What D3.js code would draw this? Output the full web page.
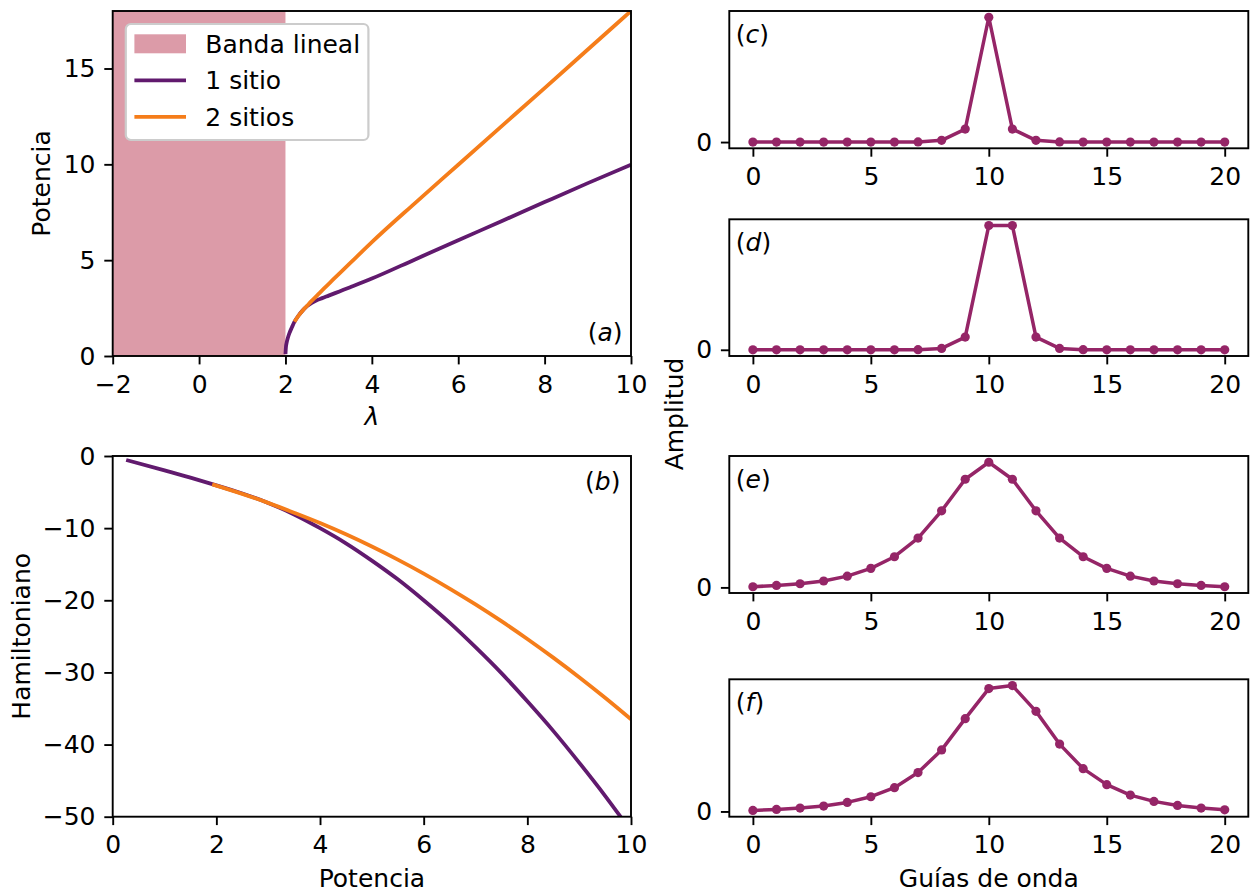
<!DOCTYPE html>
<html>
<head>
<meta charset="utf-8">
<script src="https://cdn.jsdelivr.net/npm/d3@7"></script>
<style>
  body { margin: 0; background: #fff; }
  svg text { font-family: "DejaVu Sans", sans-serif; }
</style>
</head>
<body>
<svg id="fig" width="1257" height="892"></svg>
<script>
// ---- (a) Potencia frente a λ ----
const linearBand = [-2, 2];
const lambdaOneSite = [2.00, 2.01, 2.03, 2.06, 2.10, 2.15, 2.21, 2.30, 2.40, 2.50, 2.60, 2.70, 2.85, 3.00, 3.25, 3.50, 4.00, 5.00, 6.00, 7.00, 8.00, 9.00, 10.00];
const powerOneSite  = [0.10, 0.45, 0.72, 0.98, 1.24, 1.50, 1.79, 2.10, 2.38, 2.60, 2.76, 2.88, 3.02, 3.15, 3.37, 3.59, 4.04, 5.04, 6.04, 7.03, 8.03, 9.02, 9.98];
const lambdaTwoSite = [2.21, 2.30, 2.40, 2.50, 2.60, 2.75, 2.90, 3.10, 3.30, 3.60, 4.00, 5.00, 6.00, 7.00, 8.00, 9.00, 10.00];
const powerTwoSite  = [1.79, 2.10, 2.38, 2.62, 2.86, 3.20, 3.54, 3.98, 4.42, 5.07, 5.94, 7.98, 9.98, 11.98, 13.98, 15.99, 18.00];
const lambdaTicks = [-2, 0, 2, 4, 6, 8, 10];
const powerTicks = [0, 5, 10, 15];

// ---- (b) Hamiltoniano frente a potencia ----
const hPowerOneSite = [0.26, 1.00, 1.50, 1.92, 2.50, 3.00, 3.50, 4.00, 4.50, 5.00, 5.50, 6.00, 6.50, 7.00, 7.50, 8.00, 8.50, 9.00, 9.50, 9.85];
const hamOneSite    = [-0.55, -2.00, -3.00, -3.90, -5.20, -6.50, -8.10, -10.00, -12.10, -14.50, -17.10, -20.00, -23.10, -26.50, -30.10, -34.00, -38.10, -42.50, -47.10, -50.50];
const hPowerTwoSite = [1.92, 2.50, 3.00, 3.50, 4.00, 4.50, 5.00, 5.50, 6.00, 6.50, 7.00, 7.50, 8.00, 8.50, 9.00, 9.50, 10.00];
const hamTwoSite    = [-3.92, -5.25, -6.50, -7.87, -9.30, -10.86, -12.55, -14.36, -16.30, -18.37, -20.57, -22.90, -25.36, -27.95, -30.67, -33.52, -36.50];
const hPowerTicks = [0, 2, 4, 6, 8, 10];
const hamTicks = [0, -10, -20, -30, -40, -50];

// ---- (c)-(f) Amplitud en cada guía de onda ----
const guides = [0, 1, 2, 3, 4, 5, 6, 7, 8, 9, 10, 11, 12, 13, 14, 15, 16, 17, 18, 19, 20];
const ampC = [0, 0, 0, 0, 0, 0, 0, 0.001, 0.014, 0.104, 1.000, 0.104, 0.014, 0.001, 0, 0, 0, 0, 0, 0, 0];
const ampD = [0, 0, 0, 0, 0, 0, 0, 0.001, 0.011, 0.102, 1.000, 1.000, 0.102, 0.011, 0.001, 0, 0, 0, 0, 0, 0];
const ampE = [0.005, 0.016, 0.029, 0.051, 0.090, 0.152, 0.245, 0.394, 0.612, 0.864, 1.000, 0.864, 0.612, 0.394, 0.245, 0.152, 0.090, 0.051, 0.029, 0.016, 0.005];
const ampF = [0.008, 0.016, 0.027, 0.043, 0.072, 0.117, 0.189, 0.309, 0.489, 0.737, 0.976, 1.000, 0.795, 0.535, 0.340, 0.213, 0.130, 0.080, 0.048, 0.027, 0.013];
const guideTicks = [0, 5, 10, 15, 20];
const ampTicks = [0];

// ---- estilo ----
const FONT = 25;
const TICK = 8.4;
const SPINE = 1.9;
const PURPLE = "#611a6e";
const ORANGE = "#f57d1a";
const BAND = "#dc9ba8";
const AMP = "#952567";

const svg = d3.select("#fig");
let clipId = 0;

function panel(box, xDomain, yDomain) {
  const g = svg.append("g").attr("transform", `translate(${box.x0},${box.y0})`);
  const w = box.x1 - box.x0, h = box.y1 - box.y0;
  const x = d3.scaleLinear().domain(xDomain).range([0, w]);
  const y = d3.scaleLinear().domain(yDomain).range([h, 0]);
  const id = "clip" + (clipId++);
  g.append("clipPath").attr("id", id).append("rect").attr("width", w).attr("height", h);
  const plot = g.append("g").attr("clip-path", `url(#${id})`);
  return { g, plot, x, y, w, h };
}

function axes(p, xTicks, yTicks) {
  const fmt = d3.format("d");
  const xa = p.g.append("g").attr("transform", `translate(0,${p.h})`)
    .call(d3.axisBottom(p.x).tickValues(xTicks).tickSize(TICK).tickPadding(10.6).tickFormat(fmt));
  const ya = p.g.append("g")
    .call(d3.axisLeft(p.y).tickValues(yTicks).tickSize(TICK).tickPadding(8.8).tickFormat(fmt));
  [xa, ya].forEach(a => {
    a.select(".domain").remove();
    a.attr("font-size", FONT).attr("font-family", "DejaVu Sans");
    a.selectAll(".tick line").attr("stroke", "#000").attr("stroke-width", SPINE);
    a.selectAll(".tick text").attr("fill", "#000");
  });
  p.g.append("rect").attr("width", p.w).attr("height", p.h)
    .attr("fill", "none").attr("stroke", "#000").attr("stroke-width", SPINE);
}

function curve(p, xs, ys, color, width) {
  const pts = xs.map((v, i) => [v, ys[i]]);
  p.plot.append("path").datum(pts)
    .attr("fill", "none").attr("stroke", color).attr("stroke-width", width)
    .attr("stroke-linejoin", "round")
    .attr("d", d3.line().x(d => p.x(d[0])).y(d => p.y(d[1])).curve(d3.curveMonotoneX));
}

function tag(p, letter, x, y, anchor) {
  const t = p.g.append("text").attr("x", x).attr("y", y)
    .attr("font-size", FONT).attr("text-anchor", anchor);
  t.append("tspan").text("(");
  t.append("tspan").attr("font-style", "italic").text(letter);
  t.append("tspan").text(")");
}

// ---- (a) ----
const pa = panel({ x0: 112.7, x1: 631, y0: 11, y1: 356 }, [-2, 10], [0, 18]);
pa.plot.append("rect")
  .attr("x", pa.x(linearBand[0])).attr("width", pa.x(linearBand[1]) - pa.x(linearBand[0]))
  .attr("y", 0).attr("height", pa.h).attr("fill", BAND);
curve(pa, lambdaOneSite, powerOneSite, PURPLE, 3.8);
curve(pa, lambdaTwoSite, powerTwoSite, ORANGE, 3.8);
axes(pa, lambdaTicks, powerTicks);
tag(pa, "a", pa.w - 8.5, 330, "end");

// leyenda
const leg = pa.g.append("g").attr("transform", "translate(13.1,13)");
leg.append("rect").attr("width", 242.6).attr("height", 116).attr("rx", 5)
  .attr("fill", "#ffffff").attr("stroke", "#cccccc").attr("stroke-width", 2.2);
const legendItems = [
  { label: "Banda lineal", kind: "patch", color: BAND },
  { label: "1 sitio", kind: "line", color: PURPLE },
  { label: "2 sitios", kind: "line", color: ORANGE }
];
legendItems.forEach((it, i) => {
  const cy = 19.8 + i * 36.5;
  if (it.kind === "patch") {
    leg.append("rect").attr("x", 8.6).attr("y", cy - 9.5).attr("width", 51.6).attr("height", 19).attr("fill", it.color);
  } else {
    leg.append("line").attr("x1", 8.6).attr("x2", 60.2).attr("y1", cy).attr("y2", cy)
      .attr("stroke", it.color).attr("stroke-width", 3.8);
  }
  leg.append("text").attr("x", 79.5).attr("y", cy + 9).attr("font-size", FONT).text(it.label);
});

// ---- (b) ----
const pb = panel({ x0: 112.7, x1: 631, y0: 456, y1: 816.7 }, [0, 10], [-50, 0]);
curve(pb, hPowerOneSite, hamOneSite, PURPLE, 3.8);
curve(pb, hPowerTwoSite, hamTwoSite, ORANGE, 3.8);
axes(pb, hPowerTicks, hamTicks);
tag(pb, "b", pb.w - 10.5, 34, "end");

// ---- (c)-(f) ----
const ampPanels = [
  { key: "c", data: ampC, y0: 11, y1: 148.3 },
  { key: "d", data: ampD, y0: 219.3, y1: 356 },
  { key: "e", data: ampE, y0: 456, y1: 593 },
  { key: "f", data: ampF, y0: 679.3, y1: 816.7 }
];
ampPanels.forEach(d => {
  const lo = d3.min(d.data), hi = d3.max(d.data), m = 0.05 * (hi - lo);
  const p = panel({ x0: 729.3, x1: 1248.3, y0: d.y0, y1: d.y1 }, [-1, 21], [lo - m, hi + m]);
  const pts = guides.map((g, i) => [g, d.data[i]]);
  p.plot.append("path").datum(pts)
    .attr("fill", "none").attr("stroke", AMP).attr("stroke-width", 3.5).attr("stroke-linejoin", "round")
    .attr("d", d3.line().x(v => p.x(v[0])).y(v => p.y(v[1])));
  p.plot.selectAll("circle").data(pts).enter().append("circle")
    .attr("cx", v => p.x(v[0])).attr("cy", v => p.y(v[1])).attr("r", 4.6).attr("fill", AMP);
  axes(p, guideTicks, ampTicks);
  tag(p, d.key, 6.5, 31.5, "start");
});

// ---- rótulos de ejes ----
function label(text, x, y, rotate, italic) {
  const t = svg.append("text").attr("font-size", FONT).attr("text-anchor", "middle")
    .attr("transform", `translate(${x},${y})` + (rotate ? " rotate(-90)" : ""))
    .text(text);
  if (italic) t.attr("font-style", "italic");
}
label("λ", 371.9, 425, false, true);
label("Potencia", 49.5, 183.5, true);
label("Hamiltoniano", 30, 636.3, true);
label("Potencia", 371.9, 886.5, false);
label("Amplitud", 683, 414, true);
label("Guías de onda", 988.8, 886.5, false);
</script>
</body>
</html>
